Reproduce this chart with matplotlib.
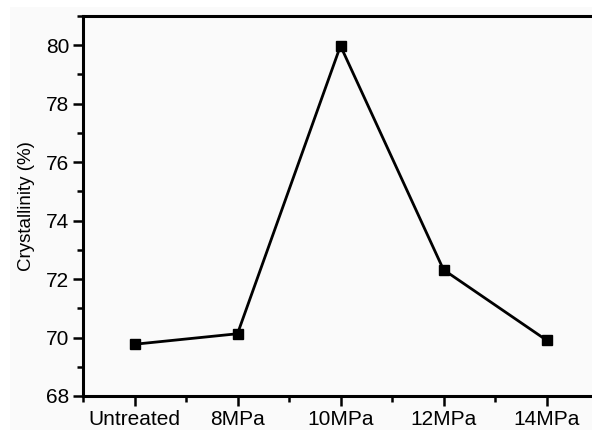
import matplotlib.pyplot as plt
from matplotlib.patches import Rectangle
from matplotlib.ticker import MultipleLocator

# data
categories = ["Untreated", "8MPa", "10MPa", "12MPa", "14MPa"]
crystallinity = [69.77, 70.13, 79.98, 72.32, 69.91]

plt.rcParams['font.family'] = ['Liberation Sans', 'DejaVu Sans']

W, H = 592, 430
fig = plt.figure(figsize=(W / 100, H / 100), dpi=100, facecolor='white')

# light grey canvas with a thin white margin top/left, like the scan
bg = Rectangle((10 / W, 0), 1, 1 - 7 / H, transform=fig.transFigure,
               facecolor='#fafafa', edgecolor='none', zorder=-10)
fig.add_artist(bg)

# axes box in pixel terms: left 83, top 16, bottom 396, right runs off the canvas
left, right, top, bottom = 83, 598, 16, 396
ax = fig.add_axes([left / W, 1 - bottom / H, (right - left) / W, (bottom - top) / H])
ax.set_zorder(5)
ax.set_facecolor('#fafafa')

x = list(range(1, len(categories) + 1))
ax.plot(x, crystallinity, color='black', lw=2, marker='s', ms=6.5, mfc='black', mec='black')

ax.set_xlim(0.5, 5.5)
ax.set_ylim(68, 81)
ax.set_xticks(x)
ax.set_xticklabels(categories)
ax.xaxis.set_minor_locator(MultipleLocator(0.5))
ax.yaxis.set_major_locator(MultipleLocator(2))
ax.yaxis.set_minor_locator(MultipleLocator(1))

for s in ax.spines.values():
    s.set_linewidth(2.2)
ax.spines['right'].set_visible(False)

ax.tick_params(which='major', direction='out', length=7, width=1.8, pad=3)
ax.tick_params(which='minor', direction='out', length=4, width=1.8)
ax.tick_params(axis='x', labelsize=15)
ax.tick_params(axis='y', labelsize=15)
ax.tick_params(top=False, right=False, which='both')

ax.set_ylabel('Crystallinity (%)', fontsize=13.5, labelpad=8)

fig.savefig('out.png', dpi=100, facecolor=fig.get_facecolor())
